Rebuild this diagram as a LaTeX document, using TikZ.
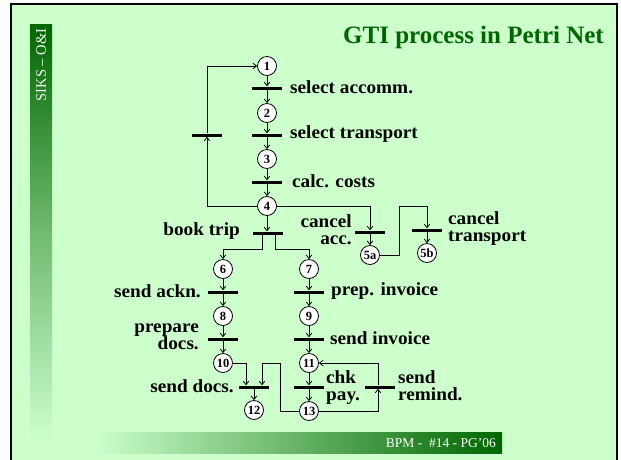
\documentclass[tikz,border=0pt]{standalone}
\usepackage{fontspec}
\setmainfont{Liberation Serif}
\newfontfamily\lblfont[FakeStretch=1.04]{Liberation Serif}
\usetikzlibrary{arrows.meta}
\definecolor{slidebg}{HTML}{CCFFCC}
\definecolor{dkgreen}{HTML}{006600}
\begin{document}
\begin{tikzpicture}[x=1pt,y=-1pt,
  place/.style={circle,draw,line width=0.8pt,fill=white,minimum size=19pt,inner sep=0pt,
    font=\fontsize{12.5}{12.5}\selectfont\bfseries},
  trans/.style={rectangle,fill=black,minimum width=30pt,minimum height=3pt,inner sep=0pt},
  lbl/.style={font=\lblfont\fontsize{18.5}{17}\selectfont\bfseries,inner sep=0pt},
  arc/.style={draw,line width=0.8pt,-{Straight Barb[length=3.5pt,width=5.5pt]}}]
\useasboundingbox (0,0) rectangle (621,459);
\fill[white] (0,0) rectangle (621,459);
% slide frame
\fill[slidebg] (11,4) rectangle (617,462);
\draw[line width=2pt] (11,462) -- (11,4) -- (617,4) -- (617,462);
% side band and footer band
\shade[top color=dkgreen,bottom color=slidebg,middle color=dkgreen!45!slidebg] (30,24) rectangle (52,440);
\node[rotate=90,text=white!80!slidebg,font=\fontsize{14.5}{14.5}\selectfont,inner sep=0pt] (side) at (41,65) {SIKS – O\&I};
\shade[left color=slidebg,right color=dkgreen] (95,432) rectangle (502,453);
\node[anchor=east,text=white,font=\fontsize{13.5}{13.5}\selectfont,inner sep=0pt] (foot) at (496,443) {BPM -\ \ \#14 - PG’06};
% title
\node[anchor=east,text=dkgreen,font=\fontsize{25}{30}\selectfont\bfseries,inner sep=0pt] (title) at (604,37) {GTI process in Petri Net};

% places
\node[place] (p1) at (267,66) {1};
\node[place] (p2) at (267,113) {2};
\node[place] (p3) at (267,159) {3};
\node[place] (p4) at (267,206) {4};
\node[place] (p5a) at (370,255) {5a};
\node[place] (p5b) at (427,253) {5b};
\node[place] (p6) at (223,269) {6};
\node[place] (p7) at (309,269) {7};
\node[place] (p8) at (223,316) {8};
\node[place] (p9) at (309,316) {9};
\node[place] (p10) at (223,363) {10};
\node[place] (p11) at (309,363) {11};
\node[place] (p12) at (254,410) {12};
\node[place] (p13) at (309,411) {13};

% transitions
\node[trans] (tA) at (267,88) {};
\node[trans] (tB) at (267,135) {};
\node[trans] (tC) at (267,182) {};
\node[trans] (tL) at (207,135) {};
\node[trans] (tCA) at (370,232) {};
\node[trans] (tCT) at (427,230) {};
\node[trans] (tBT) at (268,233) {};
\node[trans] (tSA) at (223,292) {};
\node[trans] (tPI) at (309,292) {};
\node[trans] (tPD) at (223,339) {};
\node[trans] (tSI) at (309,339) {};
\node[trans] (tSD) at (254,387) {};
\node[trans] (tCP) at (309,387) {};
\node[trans] (tSR) at (380,387) {};

% transition labels
\node[lbl,anchor=west] (lA) at (290,87) {select accomm.};
\node[lbl,anchor=west] (lB) at (290,134) {select transport};
\node[lbl,anchor=west] (lC) at (292,181) {calc. costs};
\node[lbl,anchor=east,align=right] (lCA) at (352,230) {cancel\\acc.};
\node[lbl,anchor=west,align=left] (lCT) at (448,229) {cancel\\transport};
\node[lbl,anchor=east] (lBT) at (240,231) {book trip};
\node[lbl,anchor=east] (lSA) at (201,291) {send ackn.};
\node[lbl,anchor=west] (lPI) at (331,291) {prep. invoice};
\node[lbl,anchor=east,align=right] (lPD) at (199,337) {prepare\\docs.};
\node[lbl,anchor=west] (lSI) at (330,338) {send invoice};
\node[lbl,anchor=east] (lSD) at (234,386) {send docs.};
\node[lbl,anchor=west,align=left] (lCP) at (326,388) {chk\\pay.};
\node[lbl,anchor=west,align=left] (lSR) at (398,386) {send\\remind.};

% junction points
\coordinate (j5) at (399,206);
\coordinate (b6) at (223,249);
\coordinate (b7) at (309,249);
\coordinate (k1) at (280,363);

% arcs of the main chain
\draw[arc] (p1) -- (tA);
\draw[arc] (tA) -- (p2);
\draw[arc] (p2) -- (tB);
\draw[arc] (tB) -- (p3);
\draw[arc] (p3) -- (tC);
\draw[arc] (tC) -- (p4);
% loop back
\draw[arc] (p4) -| (tL);
\draw[arc] (tL) |- (p1);
% cancellation
\draw[arc] (p4) -| (tCA);
\draw[arc] (tCA) -- (p5a);
\draw[arc] (p5a) -| (j5) -| (tCT);
\draw[arc] (tCT) -- (p5b);
% booking
\draw[arc] (p4) -- (p4 |- tBT.north);
\draw[arc] ([xshift=-6pt]tBT.south) |- (b6) -- (p6);
\draw[arc] ([xshift=7pt]tBT.south) |- (b7) -- (p7);
\draw[arc] (p6) -- (tSA);
\draw[arc] (tSA) -- (p8);
\draw[arc] (p8) -- (tPD);
\draw[arc] (tPD) -- (p10);
\draw[arc] (p7) -- (tPI);
\draw[arc] (tPI) -- (p9);
\draw[arc] (p9) -- (tSI);
\draw[arc] (tSI) -- (p11);
% sending documents
\draw[arc] (p10) -| ([xshift=-8pt]tSD.north);
\draw[arc] (p13) -| (k1) -| ([xshift=8pt]tSD.north);
\draw[arc] (tSD) -- (p12);
% payment and reminders
\draw[arc] (p11) -- (tCP);
\draw[arc] (tCP) -- (p13);
\draw[arc] (p13) -| ([xshift=-2pt]tSR.south);
\draw[arc] ([xshift=-2pt]tSR.north) |- (p11);
\end{tikzpicture}
\end{document}
